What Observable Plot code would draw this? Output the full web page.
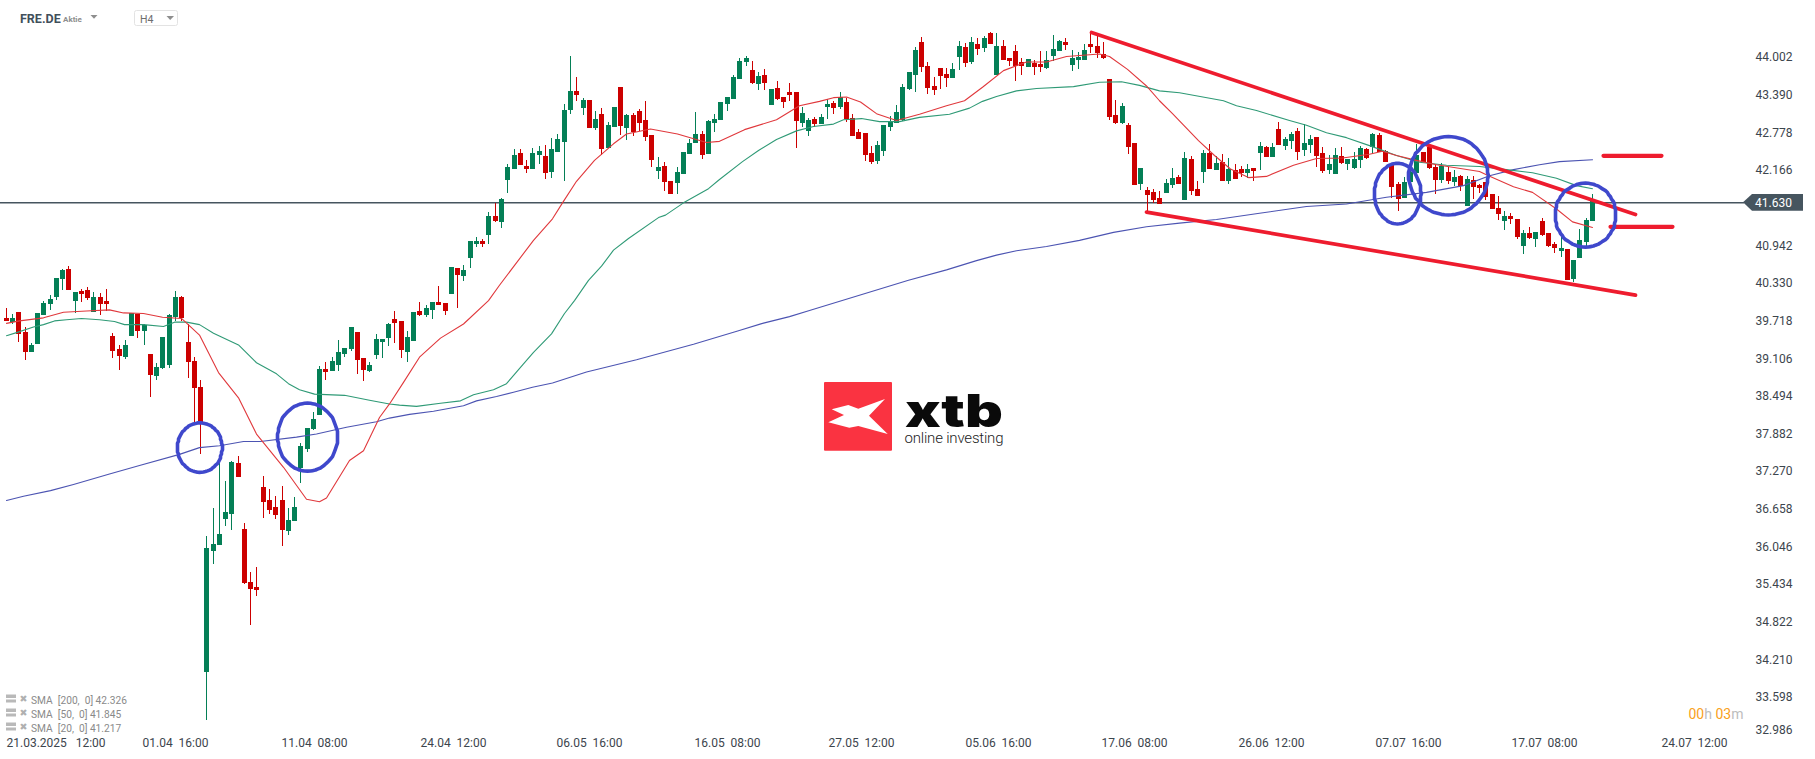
<!DOCTYPE html>
<html>
<head>
<meta charset="utf-8">
<script src="https://cdn.jsdelivr.net/npm/d3@7"></script>
<script src="https://cdn.jsdelivr.net/npm/@observablehq/plot@0.6"></script>
<style>
html,body{margin:0;padding:0;background:#fff;overflow:hidden}
svg{display:block}
</style>
</head>
<body>
<div id="chart"></div>
<script>
// candle direction, one letter per H4 bar (G = up, R = down)
const direction =
  "RGRRGGGGGG"+"RGRRGRRRRG"+"GRGRGGGGRR"+"RRGGGGGRRR"+"RRRRRGGGGG"+"GRGGGGRRGG"+"GGR"+"RGG"+
  "RGGRRGRGGG"+"RGRGGGRRGG"+"RGGGGRGRGR"+"GGRGRRRRGR"+"RGGGGRGGGG"+"GGGRGRGRRR"+"R"+
  "GGRGGRGRRR"+"RRGGGGGGGR"+"RRRRGGRGRG"+"RGRRRRGRRG"+"GGRGGGRRRR"+"RGRRG"+
  "RRRGGRGRRG"+"RGRGRRGRGR"+"GRGGRGGRRG"+"GRGGGRGRRR"+"RGGGRRRGRG"+
  "RGRRRRRGRR"+"GRGRRRGRGG"+"GG";
const bodyTop = [
39.76,39.76,39.86,39.53,39.32,39.84,40.00,40.07,40.41,40.54,
40.56,40.18,40.20,40.21,40.10,40.10,40.04,39.47,39.26,39.32,
39.84,39.82,39.65,39.17,38.96,39.45,39.81,40.10,40.10,39.37,
39.06,38.64,36.02,36.08,36.25,36.60,37.42,37.40,36.33,35.47,
35.39,37.01,36.80,36.69,36.80,36.47,36.69,37.68,37.97,38.12,
38.93,38.93,39.06,39.21,39.27,39.61,39.53,39.11,39.00,39.42,
39.42,39.66,39.74,
39.71,39.45,39.86,
39.87,39.92,40.02,40.02,40.00,40.59,40.57,40.54,41.01,41.01,
41.01,41.42,41.42,41.69,42.21,42.41,42.44,42.23,42.44,42.47,
42.39,42.51,42.67,43.14,43.45,43.45,43.30,43.30,43.00,43.08,
42.90,43.19,43.52,43.06,43.06,43.13,42.98,42.73,42.21,42.23,
41.99,42.13,42.46,42.60,42.75,42.75,42.96,43.00,43.27,43.35,
43.68,43.94,43.99,43.79,43.69,43.71,43.48,43.50,43.35,43.43,
43.43,
43.09,42.98,42.99,43.03,43.24,43.25,43.35,43.27,43.01,42.78,
42.77,42.44,42.57,42.90,42.95,43.11,43.52,43.76,44.12,44.25,
43.86,43.53,43.82,43.73,43.81,44.18,44.17,44.25,44.21,44.31,
44.39,44.18,44.18,43.99,44.10,43.92,43.97,43.91,43.89,43.95,
44.13,44.26,44.25,43.99,44.00,44.12,44.21,44.18,44.05,43.65,
43.06,43.21,42.90,42.61,42.20,
41.84,41.81,41.71,41.95,42.04,42.05,42.36,42.34,41.86,42.44,
42.44,42.28,42.30,42.18,42.17,42.18,42.18,42.20,42.56,42.54,
42.54,42.83,42.67,42.75,42.80,42.60,42.67,42.70,42.44,42.26,
42.41,42.39,42.34,42.34,42.52,42.51,42.75,42.73,42.47,42.25,
41.94,41.97,42.13,42.41,42.46,42.54,42.21,42.23,42.13,42.05,
42.07,42.02,42.00,41.92,41.97,41.78,41.55,41.42,41.42,41.37,
41.14,41.14,41.16,41.34,41.14,40.96,40.90,40.88,40.70,41.03,
41.35,41.66];
const bodyBottom = [
39.71,39.70,39.50,39.21,39.20,39.34,39.81,39.99,40.10,40.39,
40.21,40.04,40.15,40.08,39.86,39.99,39.99,39.22,39.14,39.12,
39.47,39.55,39.55,38.83,38.82,38.95,39.00,39.78,39.76,39.04,
38.62,38.07,34.00,35.97,36.07,36.49,36.57,37.17,35.45,35.35,
35.34,36.77,36.64,36.56,36.31,36.30,36.46,37.32,37.63,37.95,
38.18,38.88,38.90,39.00,39.17,39.26,39.08,38.91,38.90,39.16,
39.37,39.43,39.68,
39.24,39.21,39.39,
39.81,39.81,39.89,39.97,39.87,40.15,40.46,40.44,40.73,40.96,
40.96,41.11,41.34,41.32,42.00,42.18,42.25,42.18,42.18,42.41,
42.12,42.13,42.46,42.62,43.14,43.39,43.17,42.85,42.85,42.51,
42.52,42.87,42.88,42.85,42.78,42.93,42.70,42.33,42.15,41.97,
41.78,41.95,42.10,42.43,42.60,42.41,42.43,42.93,42.98,43.24,
43.32,43.65,43.92,43.58,43.56,43.58,43.22,43.32,43.27,43.39,
42.96,
42.93,42.80,42.91,42.91,43.19,43.17,43.19,42.99,42.72,42.67,
42.41,42.30,42.31,42.47,42.86,42.93,42.98,43.48,43.71,43.84,
43.50,43.47,43.69,43.66,43.66,44.00,43.91,43.92,44.13,44.15,
44.21,43.71,43.95,43.94,43.86,43.86,43.84,43.84,43.84,43.82,
44.02,44.10,44.20,43.87,43.95,43.95,44.17,44.07,43.99,43.03,
42.93,42.93,42.54,41.92,41.94,
41.76,41.68,41.61,41.79,41.92,41.94,41.68,41.82,41.74,42.13,
42.18,42.17,41.99,41.99,42.02,42.12,42.12,42.15,42.44,42.38,
42.38,42.57,42.56,42.64,42.46,42.49,42.57,42.39,42.15,42.17,
42.10,42.28,42.26,42.20,42.33,42.36,42.54,42.46,42.30,41.89,
41.69,41.71,41.97,42.12,42.30,42.20,42.00,42.00,41.99,41.97,
41.91,41.58,41.89,41.87,41.73,41.53,41.45,41.34,41.37,41.08,
40.93,41.06,41.04,41.11,40.93,40.90,40.85,40.38,40.39,40.74,
40.99,41.34];
const high = [
39.93,39.83,39.86,39.61,39.35,39.84,40.04,40.14,40.41,40.56,
40.60,40.18,40.23,40.26,40.18,40.17,40.23,39.52,39.32,39.40,
39.84,39.82,39.66,39.18,39.03,39.45,39.82,40.20,40.12,39.66,
39.13,38.75,36.21,36.67,37.45,37.11,37.43,37.52,36.43,35.63,
35.71,37.19,36.98,36.87,37.03,36.67,36.85,37.72,37.97,38.23,
38.98,39.04,39.13,39.40,39.27,39.61,39.53,39.11,39.04,39.50,
39.42,39.68,39.87,
39.71,39.55,39.86,
40.02,39.97,40.02,40.28,40.00,40.59,40.57,40.62,41.01,41.08,
41.04,41.48,41.63,41.71,42.26,42.51,42.51,42.33,42.52,42.56,
42.57,42.69,42.75,43.24,44.02,43.68,43.34,43.30,43.13,43.17,
42.95,43.19,43.52,43.08,43.09,43.16,43.29,42.73,42.38,42.30,
41.99,42.21,42.46,42.67,43.11,42.80,42.98,43.08,43.27,43.35,
43.71,43.99,44.02,43.94,43.76,43.81,43.48,43.61,43.35,43.58,
43.43,
43.19,43.01,43.03,43.08,43.32,43.29,43.43,43.34,43.08,42.83,
42.77,42.56,42.64,42.90,43.04,43.22,43.56,43.76,44.17,44.33,
43.92,43.68,43.82,43.82,43.91,44.26,44.23,44.33,44.31,44.34,
44.41,44.39,44.28,43.99,44.20,43.99,43.97,43.95,44.10,44.10,
44.36,44.28,44.31,44.12,44.08,44.21,44.41,44.36,44.25,43.65,
43.30,43.26,42.93,42.61,42.20,
41.89,41.86,41.82,42.02,42.20,42.08,42.46,42.39,41.99,42.49,
42.59,42.39,42.43,42.36,42.26,42.23,42.26,42.20,42.62,42.56,
42.60,42.95,42.70,42.78,42.85,42.91,42.73,42.70,42.54,42.41,
42.52,42.54,42.34,42.46,42.56,42.52,42.77,42.77,42.49,42.25,
41.97,42.05,42.21,42.59,42.46,42.59,42.26,42.28,42.21,42.17,
42.08,42.07,42.07,41.94,41.97,41.78,41.74,41.50,41.47,41.37,
41.19,41.24,41.16,41.39,41.14,40.99,41.08,40.88,40.70,41.21,
41.39,41.78];
const low = [
39.71,39.66,39.37,39.07,39.20,39.34,39.81,39.89,40.06,40.21,
40.21,39.84,40.02,40.05,39.86,39.81,39.87,39.11,38.91,39.09,
39.47,39.43,39.32,38.47,38.75,38.93,38.95,39.71,39.71,38.78,
38.04,37.55,33.22,35.76,36.07,36.38,36.31,37.17,35.43,34.77,
35.24,36.51,36.57,36.49,36.05,36.23,36.46,37.08,37.58,37.94,
38.18,38.75,38.90,38.90,39.12,39.22,38.85,38.73,38.88,39.09,
39.11,39.30,39.35,
39.11,39.04,39.39,
39.79,39.78,39.74,39.97,39.81,40.15,39.92,40.36,40.57,40.91,
40.91,40.96,41.32,41.22,41.79,42.18,42.25,42.12,42.18,42.26,
42.02,42.03,42.46,41.99,43.08,43.29,43.06,42.85,42.82,42.41,
42.52,42.87,42.73,42.65,42.72,42.80,42.64,42.21,42.02,41.82,
41.78,41.78,42.10,42.43,42.60,42.34,42.43,42.78,42.98,43.12,
43.32,43.65,43.86,43.56,43.47,43.47,43.22,43.30,43.17,43.29,
42.52,
42.86,42.72,42.86,42.91,42.99,43.08,43.16,42.95,42.72,42.67,
42.31,42.26,42.26,42.39,42.80,42.93,42.96,43.47,43.43,43.76,
43.40,43.39,43.48,43.51,43.66,43.79,43.84,43.89,44.04,44.08,
44.21,43.71,43.95,43.86,43.61,43.71,43.84,43.71,43.76,43.81,
43.94,44.10,44.12,43.78,43.81,43.95,44.07,43.99,43.97,42.98,
42.91,42.91,42.43,41.92,41.84,
41.49,41.63,41.61,41.79,41.87,41.94,41.68,41.76,41.74,41.95,
42.18,42.17,41.99,41.94,42.02,42.05,42.04,41.99,42.17,42.38,
42.38,42.57,42.49,42.51,42.33,42.39,42.44,42.21,42.12,42.10,
42.10,42.26,42.17,42.18,42.20,42.34,42.43,42.46,42.30,41.71,
41.50,41.71,41.97,42.12,42.30,42.18,41.78,41.95,41.94,41.91,
41.82,41.58,41.69,41.79,41.68,41.53,41.35,41.19,41.29,41.04,
40.80,41.04,40.91,41.09,40.91,40.82,40.75,40.38,40.34,40.74,
40.91,41.34];

// moving averages, read at bar positions
const sma50Bar = [0,1.65,4.31,5.9,7.76,9.62,12,14.94,17.33,18.93,21.85,25.04,26.9,28.76,30.89,33,37,39.9,43.1,45,46.8,49.2,54,58,61.2,62.8,65.4,69.2,72.4,74.5,77.7,79.8,82.5,84.1,87,89.1,90.7,92.8,95,96.8,99.2,104,105.1,108,112,113.8,117.5,120,122.9,126,128.7,131.9,133.5,136.4,139.3,142.5,145.7,150.5,153.7,155.8,158,161.1,164.3,170.2,174.4,177.9,180.8,184,187.2,194.1,196.2,199.4,204.7,207.4,210.6,213.8,217.5,221.7,225.5,229.7,235,239.3,243.5,247.3,250.5,253];
const sma50 = [39.48,39.53,39.62,39.66,39.72,39.74,39.76,39.74,39.71,39.66,39.66,39.63,39.70,39.70,39.66,39.52,39.33,39.04,38.86,38.70,38.60,38.53,38.51,38.43,38.37,38.35,38.33,38.38,38.42,38.52,38.60,38.70,39.02,39.21,39.51,39.84,40.05,40.38,40.61,40.87,41.06,41.40,41.44,41.64,41.87,42.02,42.31,42.49,42.67,42.81,42.88,42.92,42.99,43.01,42.96,42.96,43.03,43.08,43.18,43.29,43.37,43.46,43.50,43.53,43.60,43.61,43.55,43.46,43.43,43.30,43.22,43.14,42.98,42.90,42.78,42.70,42.57,42.41,42.30,42.25,42.23,42.18,42.13,42.04,41.92,41.87];
const sma20Bar = [0,2.2,5.9,9.1,12.8,16.5,18.7,21.85,25,28,30.9,33.8,37,39.9,44.2,47.9,50,51.1,54.8,57,59.6,61.2,63.3,66,69.2,72.9,76.9,78.7,84.1,87.2,88.8,91,93.9,96.8,99,102.7,107,111.7,113.8,117.8,122.9,126.6,129.8,131.9,134,136.2,138.8,142,145.7,150,152.9,155.8,159,162.7,165.9,169.1,174.4,176,178.9,181.9,184,186.1,190.1,192.8,195.2,198.1,201,205.3,209,213.2,217.5,219.6,221.7,224.9,228.1,235,236.4,240.4,243.5,247.3,249.9,253];
const sma20 = [39.68,39.72,39.77,39.86,39.88,39.90,39.85,39.84,39.78,39.76,39.49,38.88,38.47,37.88,37.34,36.82,36.78,36.84,37.45,37.61,38.15,38.37,38.72,39.13,39.44,39.67,40.05,40.30,41.03,41.38,41.64,41.99,42.33,42.60,42.76,42.84,42.76,42.62,42.64,42.83,42.99,43.22,43.29,43.35,43.36,43.28,43.09,42.98,43.08,43.22,43.30,43.52,43.79,43.93,43.93,44.02,44.06,44.02,43.81,43.54,43.30,43.09,42.65,42.41,42.19,42.05,42.07,42.25,42.36,42.37,42.43,42.48,42.41,42.33,42.26,42.15,42.08,41.90,41.81,41.54,41.33,41.24];
const sma200Bar = [0,2.7,7,10.7,16.5,21.3,27.7,30.9,34.1,37.8,40.5,46.3,49.5,54.3,59.1,61.2,64.4,68.1,72.9,75,78.2,80.9,84,87.2,92.6,100.5,109.7,116.8,120.7,125,128.2,143.9,150,154.8,158,161.1,165.9,171.2,176.6,181.9,187.2,193,199.9,207.4,213.8,220.1,226.5,232.4,236.6,240.4,244.6,247.8,253];
const sma200 = [36.80,36.87,36.96,37.06,37.23,37.37,37.55,37.66,37.69,37.76,37.76,37.83,37.88,37.99,38.08,38.14,38.20,38.25,38.34,38.42,38.49,38.56,38.64,38.71,38.89,39.09,39.34,39.56,39.68,39.79,39.89,40.38,40.55,40.70,40.79,40.86,40.93,41.03,41.16,41.25,41.31,41.37,41.47,41.58,41.62,41.73,41.81,41.92,42.08,42.18,42.26,42.31,42.34];

// axes
const priceTicks = [44.002,43.390,42.778,42.166,40.942,40.330,39.718,39.106,38.494,37.882,37.270,36.658,36.046,35.434,34.822,34.210,33.598];
const lastPriceTick = 32.986;
const lastPrice = 41.630;
const dateLabels = ["01.04\u00A0\u00A016:00","11.04\u00A0\u00A008:00","24.04\u00A0\u00A012:00","06.05\u00A0\u00A016:00","16.05\u00A0\u00A008:00","27.05\u00A0\u00A012:00","05.06\u00A0\u00A016:00","17.06\u00A0\u00A008:00","26.06\u00A0\u00A012:00","07.07\u00A0\u00A016:00","17.07\u00A0\u00A008:00","24.07\u00A0\u00A012:00"];
const dateBars = [27.06,49.2,71.4,93.1,115,136.5,158.2,179.9,201.8,223.7,245.4,269.3];
const firstDateLabel = "21.03.2025\u00A0\u00A0\u00A012:00";

// drawn annotations
const trendFromBar = [173.1,181.9,254.8,255.9];
const trendFromPrice = [44.41,41.49,42.405,41.25];
const trendToBar = [259.8,259.8,264.1,265.8];
const trendToPrice = [41.45,40.14,42.405,41.25];
const circleBar = [30.9,48.06,221.95,230.04,251.9];
const circlePrice = [37.66,37.83,41.79,42.08,41.44];
const circleBarRadius = [3.56,4.78,3.72,6.33,4.86];
const circlePriceRadius = [0.403,0.553,0.493,0.637,0.52];

// legend
const legendLabels = ["SMA\u00A0\u00A0[200,\u00A0\u00A00]\u00A042.326","SMA\u00A0\u00A0[50,\u00A0\u00A00]\u00A041.845","SMA\u00A0\u00A0[20,\u00A0\u00A00]\u00A041.217"];

const GREEN = "#047f56", RED = "#cc0000", TEXT = "#3c454d", FONT = "Roboto, sans-serif";
const candles = d3.range(direction.length).map(i => ({
  i, up: direction[i] === "G", top: bodyTop[i], bottom: bodyBottom[i], high: high[i], low: low[i]
}));
const pairs = (xs, ys) => xs.map((x, k) => ({x, y: ys[k]}));
const ellipses = circleBar.flatMap((c, k) => d3.range(0, 73).map(a => ({
  k,
  x: c + circleBarRadius[k] * Math.cos(a * Math.PI / 36),
  y: circlePrice[k] + circlePriceRadius[k] * Math.sin(a * Math.PI / 36)
})));
const trends = trendFromBar.map((x1, k) => ({x1, y1: trendFromPrice[k], x2: trendToBar[k], y2: trendToPrice[k], k}));

function chrome() {
  const g = d3.create("svg:g").attr("font-family", FONT).attr("text-anchor", "start");
  // instrument header
  g.append("text").attr("x", 20).attr("y", 22.5).attr("font-size", 12.5).attr("font-weight", 700).attr("fill", "#414f5b").text("FRE.DE");
  g.append("text").attr("x", 63).attr("y", 22).attr("font-size", 8).attr("font-weight", 700).attr("fill", "#8e8e8e").text("Aktie");
  g.append("path").attr("d", "M90.5 15 L97.5 15 L94 18.8 Z").attr("fill", "#8e8e8e");
  g.append("rect").attr("x", 134.5).attr("y", 10.5).attr("width", 43).attr("height", 15).attr("rx", 2).attr("fill", "#fff").attr("stroke", "#e3e3e3");
  g.append("text").attr("x", 140).attr("y", 23).attr("font-size", 10.5).attr("fill", "#6d6d6d").text("H4");
  g.append("path").attr("d", "M166.5 16 L174 16 L170.2 20 Z").attr("fill", "#8e8e8e");
  // last price tag
  g.append("path").attr("d", "M1743 202.3 L1752 194 L1803 194 L1803 210.7 L1752 210.7 Z").attr("fill", "#46555f");
  g.append("text").attr("x", 1755).attr("y", 206.8).attr("font-size", 12).attr("fill", "#fff").text(d3.format(".3f")(lastPrice));
  // countdown
  const t = g.append("text").attr("x", 1688.5).attr("y", 719).attr("font-size", 14);
  t.append("tspan").attr("fill", "#f9a11b").text("00");
  t.append("tspan").attr("fill", "#bdbdbd").text("h ");
  t.append("tspan").attr("fill", "#f9a11b").text("03");
  t.append("tspan").attr("fill", "#bdbdbd").text("m");
  // legend icons
  legendLabels.forEach((s, k) => {
    const y = 699.5 + k * 14;
    g.append("path").attr("d", `M6 ${y-5} H16 V${y-1.5} H6 Z M6 ${y} H16 V${y+3} H6 Z`).attr("fill", "#b9b9b9");
    g.append("text").attr("x", 19.5).attr("y", y + 2.8).attr("font-size", 9.5).attr("font-family", "DejaVu Sans").attr("fill", "#b0b0b0").text("\u2716");
    g.append("text").attr("x", 31).attr("y", y + 4).attr("font-size", 10.2).attr("fill", "#8a8a8a").text(s);
  });
  // xtb watermark
  g.append("rect").attr("x", 824).attr("y", 382).attr("width", 68).attr("height", 68.7).attr("rx", 1).attr("fill", "#fa3341");
  g.append("polygon").attr("fill", "#fff").attr("points",
    "885,399 869,415.7 887.7,434 858.3,426 849.3,427.7 828.3,422.3 844,415 831.7,409.3 848.3,405 858.3,408.7");
  g.append("text").attr("x", 905).attr("y", 426.7).attr("font-size", 45).attr("font-weight", 900).attr("font-family", "Inter, Roboto, sans-serif")
    .attr("fill", "#0a0a0a").attr("textLength", 98).attr("lengthAdjust", "spacingAndGlyphs").text("xtb");
  g.append("text").attr("x", 904.5).attr("y", 443).attr("font-size", 15).attr("font-weight", 300).attr("fill", "#222")
    .attr("textLength", 99).attr("lengthAdjust", "spacing").text("online investing");
  return g.node();
}

const chart = Plot.plot({
  width: 1815, height: 759,
  marginLeft: 0, marginTop: 0, marginBottom: 0, marginRight: 60,
  style: {fontFamily: FONT, background: "#fff"},
  x: {domain: [0, 253], range: [5.7, 1591.9], round: true, axis: null},
  y: {domain: [44.93 - 759 / 61.5, 44.93], range: [759, 0], label: null},
  marks: [
    Plot.axisY({anchor: "right", ticks: priceTicks, tickSize: 0, tickPadding: 0, label: null,
      tickFormat: d3.format(".3f"), fontSize: 12, fill: TEXT}),
    Plot.text([lastPriceTick], {y: d => d, frameAnchor: "right", dy: -4.6, text: d => d3.format(".3f")(d), fontSize: 12, fill: TEXT, textAnchor: "start"}),
    Plot.text(dateLabels, {x: (d, k) => dateBars[k], frameAnchor: "bottom", dy: -16.3, lineAnchor: "middle", text: d => d, fontSize: 12, fill: TEXT}),
    Plot.text([firstDateLabel], {x: () => 0, frameAnchor: "bottom", dy: -16.3, lineAnchor: "middle", textAnchor: "start", text: d => d, fontSize: 12, fill: TEXT}),
    Plot.ruleY([lastPrice], {x1: -1.1, x2: 277.3, dy: -0.7, stroke: "#46555f", strokeWidth: 1.5}),
    Plot.ruleX(candles, {x: "i", y1: "low", y2: "high", stroke: d => d.up ? GREEN : RED, strokeWidth: 1, shapeRendering: "crispEdges"}),
    Plot.ruleX(candles, {x: "i", y1: "bottom", y2: "top", stroke: d => d.up ? GREEN : RED, strokeWidth: 5, shapeRendering: "crispEdges"}),
    Plot.line(pairs(sma200Bar, sma200), {x: "x", y: "y", stroke: "#4c54b2", strokeWidth: 1.1}),
    Plot.line(pairs(sma50Bar, sma50), {x: "x", y: "y", stroke: "#2f9a76", strokeWidth: 1.1}),
    Plot.line(pairs(sma20Bar, sma20), {x: "x", y: "y", stroke: "#e0383c", strokeWidth: 1.1}),
    Plot.link(trends, {x1: "x1", y1: "y1", x2: "x2", y2: "y2", stroke: "#ee1c2e", strokeWidth: d => d.k < 2 ? 3.7 : 4.2, strokeLinecap: "round"}),
    Plot.line(ellipses, {x: "x", y: "y", z: "k", stroke: "#3f48cc", strokeWidth: 3.6}),
    chrome
  ]
});
document.getElementById("chart").append(chart);
</script>
</body>
</html>
